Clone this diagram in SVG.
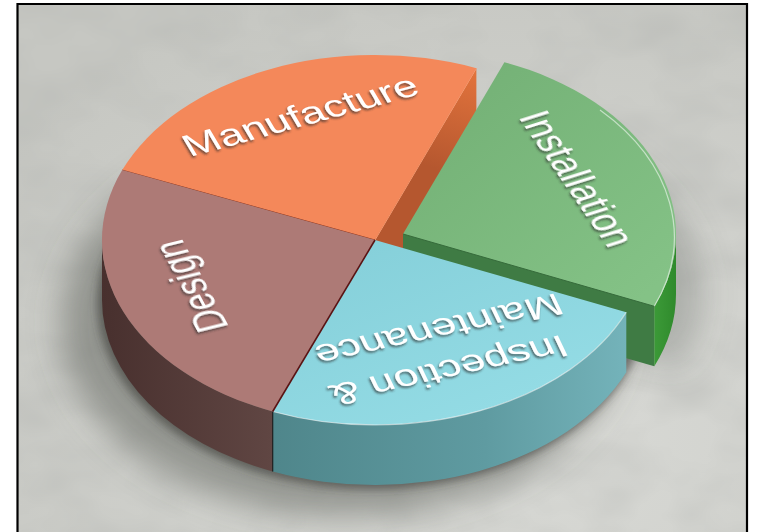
<svg xmlns="http://www.w3.org/2000/svg" width="759" height="532" viewBox="0 0 759 532">
  <defs>
    <style>
      .lbl { font-family: "Liberation Sans", Arial, sans-serif; font-size: 45px; fill: #ffffff; text-anchor: middle; }
      .rimHi { fill: none; stroke: #ffffff; stroke-opacity: 0.55; stroke-width: 1.2; }
    </style>
    <!-- mottled floor texture -->
    <filter id="mottle" x="0" y="0" width="100%" height="100%">
      <feTurbulence type="fractalNoise" baseFrequency="0.011 0.018" numOctaves="3" seed="7"/>
      <feColorMatrix type="matrix" values="0 0 0 0 0.45  0 0 0 0 0.46  0 0 0 0 0.44  0.8 0 0 0 -0.3"/>
    </filter>
    <filter id="blurBig" x="-30%" y="-30%" width="160%" height="160%">
      <feGaussianBlur stdDeviation="16"/>
    </filter>
    <filter id="blurSmall" x="-10%" y="-10%" width="120%" height="120%">
      <feGaussianBlur stdDeviation="4"/>
    </filter>
    <filter id="emboss" x="-10%" y="-10%" width="120%" height="130%">
      <feDropShadow dx="-1" dy="2" stdDeviation="0.8" flood-color="#2a2a2a" flood-opacity="0.65"/>
    </filter>
    <radialGradient id="floor" cx="0.7" cy="0.8" r="0.9">
      <stop offset="0" stop-color="#d9dad6"/>
      <stop offset="1" stop-color="#c6c7c2"/>
    </radialGradient>
    <linearGradient id="designSide" gradientUnits="userSpaceOnUse" x1="102" y1="0" x2="273" y2="0">
      <stop offset="0" stop-color="#48302e"/>
      <stop offset="1" stop-color="#604643"/>
    </linearGradient>
    <linearGradient id="cyanSide" gradientUnits="userSpaceOnUse" x1="273" y1="0" x2="627" y2="0">
      <stop offset="0" stop-color="#4f868b"/>
      <stop offset="0.6" stop-color="#5f9ba1"/>
      <stop offset="1" stop-color="#74b3ba"/>
    </linearGradient>
    <linearGradient id="cyanTop" gradientUnits="userSpaceOnUse" x1="375" y1="240" x2="450" y2="425">
      <stop offset="0" stop-color="#86d0da"/>
      <stop offset="1" stop-color="#93dbe4"/>
    </linearGradient>
    <linearGradient id="greenTop" gradientUnits="userSpaceOnUse" x1="450" y1="80" x2="640" y2="300">
      <stop offset="0" stop-color="#74b176"/>
      <stop offset="1" stop-color="#84c286"/>
    </linearGradient>
    <linearGradient id="greenSide" gradientUnits="userSpaceOnUse" x1="676" y1="0" x2="654" y2="0">
      <stop offset="0" stop-color="#2f8a2c"/>
      <stop offset="1" stop-color="#3c9a38"/>
    </linearGradient>
    <linearGradient id="orangeCut" gradientUnits="userSpaceOnUse" x1="470" y1="70" x2="440" y2="170">
      <stop offset="0" stop-color="#e2733c"/>
      <stop offset="1" stop-color="#b5572f"/>
    </linearGradient>
  </defs>

  <!-- floor -->
  <rect x="0" y="0" width="759" height="532" fill="#ffffff"/>
  <rect x="17" y="3" width="731" height="540" fill="url(#floor)"/>
  <rect x="17" y="3" width="731" height="540" filter="url(#mottle)"/>

  <!-- shadows cast on the floor -->
  <g id="shadows">
    <ellipse cx="343" cy="322" rx="282" ry="194" fill="#5a5b57" fill-opacity="0.5" filter="url(#blurBig)"/>
    <path d="M 431,294 L 682,366 A 273 185 0 0 0 532,122 Z" fill="#5e5f5b" fill-opacity="0.3" filter="url(#blurBig)"/>
    <ellipse cx="372" cy="303" rx="275" ry="186" fill="#3a3a38" fill-opacity="0.6" filter="url(#blurSmall)"/>
  </g>

  <!-- Manufacture: cut face exposed by the lifted-out Installation piece -->
  <g id="manufacture-cut">
    <path d="M 375,240 L 476.4,68.2 L 476.4,128.2 L 375,300 Z" fill="url(#orangeCut)"/>
    <path d="M 375,240 L 476.4,68.2" fill="none" stroke="#f7a27a" stroke-width="1"/>
  </g>

  <!-- Installation (exploded slice) -->
  <g id="installation">
    <path d="M 403,234 L 654.3,306.3 L 654.3,366.3 L 403,294 Z" fill="#3f7b44"/>
    <path d="M 676,234 A 273 185 0 0 1 654.3,306.3 L 654.3,366.3 A 273 185 0 0 0 676,294 Z" fill="url(#greenSide)"/>
    <path d="M 403,234 L 504.4,62.2 A 273 185 0 0 1 654.3,306.3 Z" fill="url(#greenTop)"/>
    <path d="M 600,110 A 273 185 0 0 1 654.3,306.3" class="rimHi"/>
    <path d="M 403,234 L 654.3,306.3" fill="none" stroke="#356c3a" stroke-width="1"/>
  </g>

  <!-- Manufacture -->
  <g id="manufacture">
    <path d="M 375,240 L 122.2,170.1 A 273 185 0 0 1 476.4,68.2 Z" fill="#f4885a"/>
    <path d="M 375,240 L 122.2,170.1" fill="none" stroke="#9a3c22" stroke-width="1"/>
  </g>

  <!-- Design -->
  <g id="design">
    <path d="M 272.7,411.5 A 273 185 0 0 1 102,240 L 102,300 A 273 185 0 0 0 272.7,471.5 Z" fill="url(#designSide)"/>
    <path d="M 375,240 L 272.7,411.5 A 273 185 0 0 1 122.2,170.1 Z" fill="#ad7a76"/>
  </g>

  <!-- Inspection & Maintenance -->
  <g id="inspection-maintenance">
    <path d="M 626.3,312.3 A 273 185 0 0 1 272.7,411.5 L 272.7,471.5 A 273 185 0 0 0 626.3,372.3 Z" fill="url(#cyanSide)"/>
    <path d="M 375,240 L 626.3,312.3 A 273 185 0 0 1 272.7,411.5 Z" fill="url(#cyanTop)"/>
    <path d="M 626.3,312.3 A 273 185 0 0 1 272.7,411.5" class="rimHi"/>
    <path d="M 272.7,411.5 L 272.7,471.5" stroke="#1e1e1e" stroke-width="1.2"/>
    <path d="M 375,240 L 272.7,411.5" stroke="#5a1414" stroke-width="1.6"/>
  </g>

  <!-- slice labels lying on the pie surface -->
  <g id="labels" filter="url(#emboss)">
    <g transform="matrix(1 0 0 0.678 375 240)">
      <text class="lbl" transform="translate(-75,-184) rotate(-22)" dy="0.35em">Manufacture</text>
      <text class="lbl" transform="translate(203,-91) rotate(65)" dy="0.35em">Installation</text>
      <text class="lbl" transform="translate(-184,68) rotate(-110)" dy="0.35em">Design</text>
      <text class="lbl" transform="translate(74,193) rotate(162)" dy="0.35em">Inspection &amp;</text>
      <text class="lbl" transform="translate(64,133) rotate(162)" dy="0.35em">Maintenance</text>
    </g>
  </g>

  <!-- frame -->
  <path d="M 17.5,540 L 17.5,4 L 747,4 L 747,540" fill="none" stroke="#000000" stroke-width="2.2"/>
</svg>
